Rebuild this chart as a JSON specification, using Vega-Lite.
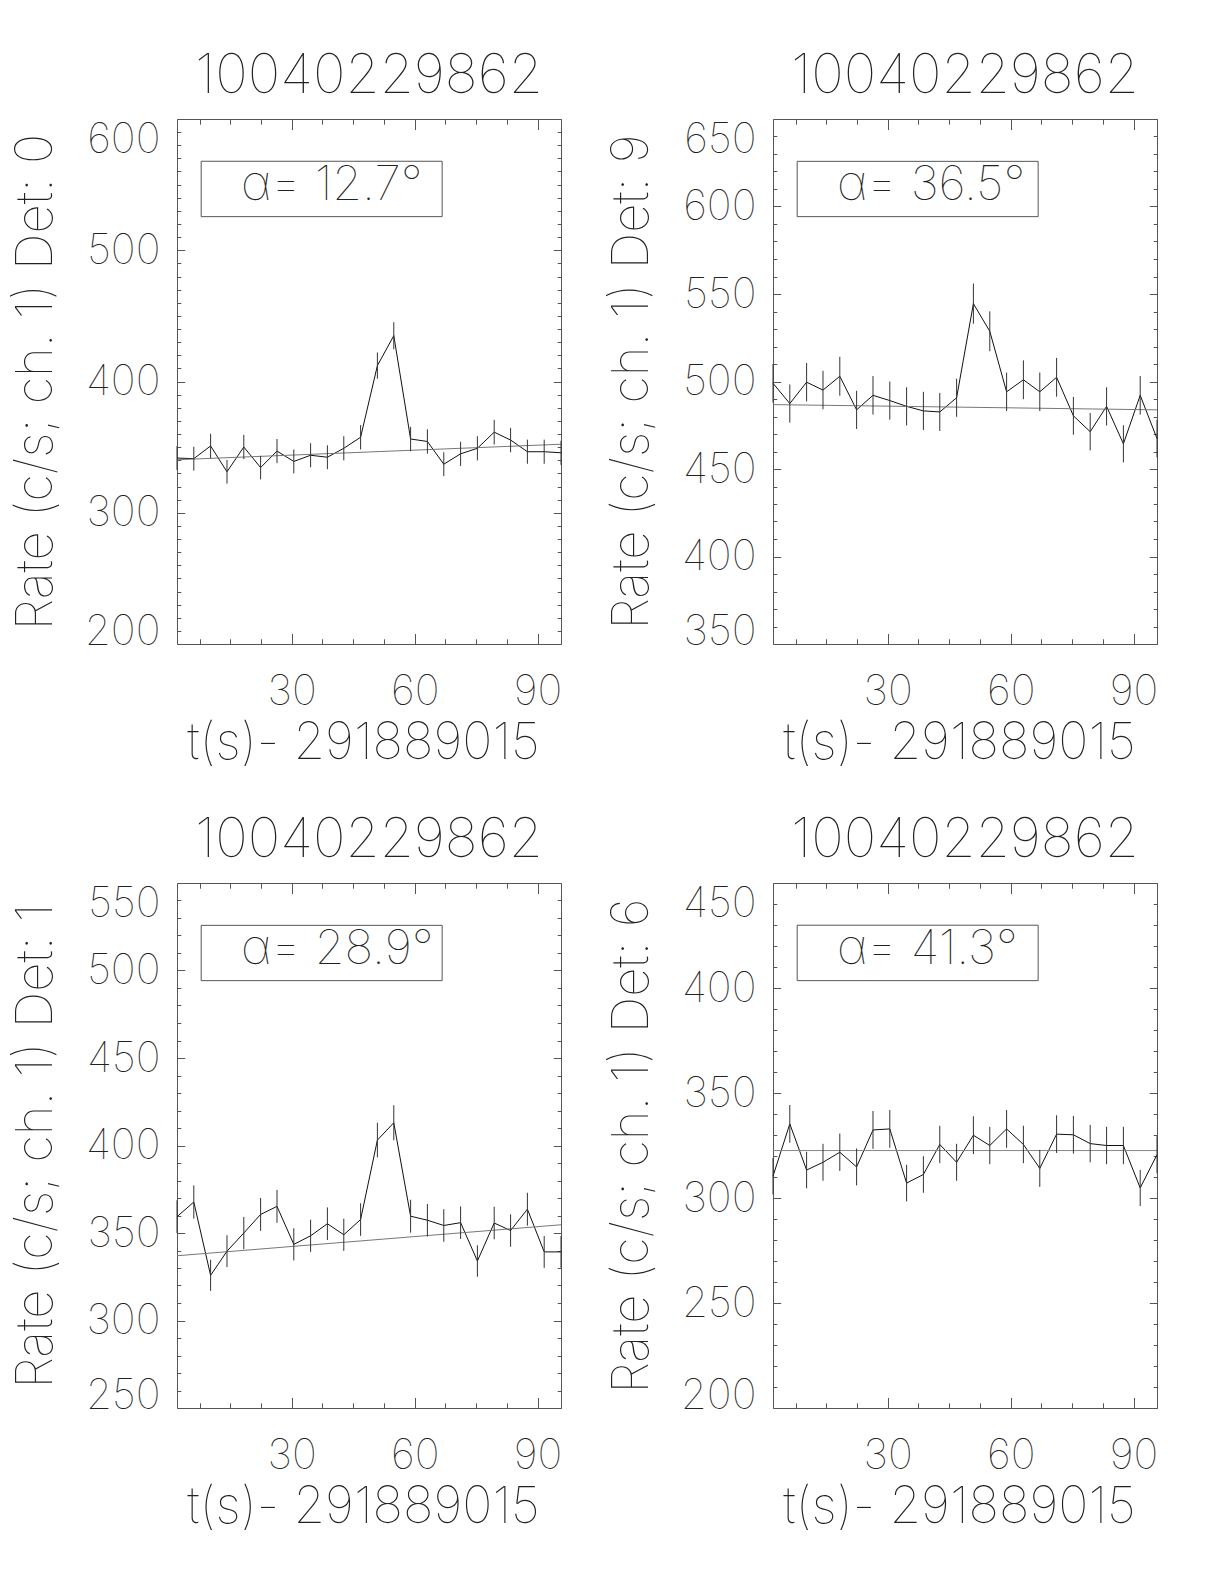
{
  "$schema": "https://vega.github.io/schema/vega-lite/v6.json",
  "background": "white",
  "autosize": {"type": "pad"},
  "padding": {"left": 9, "top": 49, "right": 0, "bottom": 20},
  "config": {
    "view": {"stroke": null},
    "font": "Inter",
    "axis": {"grid": false, "domainColor": "#555", "tickColor": "#555", "domainWidth": 1, "tickWidth": 1, "labelFont": "Inter", "labelFontSize": 42, "labelFontWeight": 100, "labelColor": "#222", "titleFont": "Inter", "titleFontSize": 51, "titleFontWeight": 100, "titleColor": "#222", "labelOverlap": false, "labelBound": false, "labelFlush": false},
    "title": {"font": "Inter", "fontSize": 55, "fontWeight": 100, "color": "#222", "anchor": "middle", "offset": 13, "baseline": "alphabetic"}
  },
  "datasets": {
    "d0": [
      {"t": 2.0, "rate": 341.7, "err": 9.1}, {"t": 6.1, "rate": 341.2, "err": 9.1}, {"t": 10.2, "rate": 350.9, "err": 9.3}, {"t": 14.2, "rate": 331.2, "err": 9.0},
      {"t": 18.3, "rate": 350.1, "err": 9.2}, {"t": 22.4, "rate": 334.4, "err": 9.0}, {"t": 26.4, "rate": 347.0, "err": 9.2}, {"t": 30.5, "rate": 339.1, "err": 9.1},
      {"t": 34.6, "rate": 343.8, "err": 9.2}, {"t": 38.7, "rate": 342.3, "err": 9.1}, {"t": 42.7, "rate": 349.1, "err": 9.2}, {"t": 46.8, "rate": 357.5, "err": 9.3},
      {"t": 50.9, "rate": 412.1, "err": 10.0}, {"t": 54.9, "rate": 434.9, "err": 10.3}, {"t": 59.0, "rate": 356.2, "err": 9.3}, {"t": 63.1, "rate": 354.3, "err": 9.3},
      {"t": 67.1, "rate": 337.0, "err": 9.1}, {"t": 71.2, "rate": 344.9, "err": 9.2}, {"t": 75.3, "rate": 349.1, "err": 9.2}, {"t": 79.4, "rate": 361.4, "err": 9.4},
      {"t": 83.4, "rate": 355.4, "err": 9.3}, {"t": 87.5, "rate": 346.5, "err": 9.2}, {"t": 91.6, "rate": 346.5, "err": 9.2}, {"t": 95.7, "rate": 345.7, "err": 9.2}
    ],
    "f0": [{"t": 2.0, "rate": 340.4}, {"t": 95.7, "rate": 352.2}],
    "d9": [
      {"t": 2.0, "rate": 499.0, "err": 11.0}, {"t": 6.1, "rate": 487.4, "err": 10.9}, {"t": 10.2, "rate": 499.6, "err": 11.0}, {"t": 14.2, "rate": 495.1, "err": 11.0},
      {"t": 18.3, "rate": 503.0, "err": 11.1}, {"t": 22.4, "rate": 483.8, "err": 10.9}, {"t": 26.4, "rate": 492.1, "err": 11.0}, {"t": 30.5, "rate": 489.1, "err": 10.9},
      {"t": 34.6, "rate": 485.8, "err": 10.9}, {"t": 38.7, "rate": 483.2, "err": 10.9}, {"t": 42.7, "rate": 482.6, "err": 10.9}, {"t": 46.8, "rate": 490.7, "err": 10.9},
      {"t": 50.9, "rate": 544.5, "err": 11.5}, {"t": 54.9, "rate": 528.7, "err": 11.4}, {"t": 59.0, "rate": 494.1, "err": 11.0}, {"t": 63.1, "rate": 501.0, "err": 11.1},
      {"t": 67.1, "rate": 494.1, "err": 11.0}, {"t": 71.2, "rate": 502.4, "err": 11.1}, {"t": 75.3, "rate": 480.4, "err": 10.8}, {"t": 79.4, "rate": 471.3, "err": 10.7},
      {"t": 83.4, "rate": 485.8, "err": 10.9}, {"t": 87.5, "rate": 464.4, "err": 10.6}, {"t": 91.6, "rate": 492.1, "err": 11.0}, {"t": 95.7, "rate": 467.4, "err": 10.7}
    ],
    "f9": [{"t": 2.0, "rate": 486.8}, {"t": 95.7, "rate": 483.8}],
    "d1": [
      {"t": 2.0, "rate": 359.3, "err": 9.4}, {"t": 6.1, "rate": 367.7, "err": 9.5}, {"t": 10.2, "rate": 325.8, "err": 8.9}, {"t": 14.2, "rate": 339.6, "err": 9.1},
      {"t": 18.3, "rate": 350.0, "err": 9.2}, {"t": 22.4, "rate": 360.6, "err": 9.4}, {"t": 26.4, "rate": 365.2, "err": 9.4}, {"t": 30.5, "rate": 343.5, "err": 9.2},
      {"t": 34.6, "rate": 348.4, "err": 9.2}, {"t": 38.7, "rate": 355.3, "err": 9.3}, {"t": 42.7, "rate": 349.0, "err": 9.2}, {"t": 46.8, "rate": 357.7, "err": 9.3},
      {"t": 50.9, "rate": 403.1, "err": 9.9}, {"t": 54.9, "rate": 413.0, "err": 10.0}, {"t": 59.0, "rate": 359.6, "err": 9.4}, {"t": 63.1, "rate": 357.3, "err": 9.3},
      {"t": 67.1, "rate": 354.3, "err": 9.3}, {"t": 71.2, "rate": 355.9, "err": 9.3}, {"t": 75.3, "rate": 334.0, "err": 9.0}, {"t": 79.4, "rate": 355.7, "err": 9.3},
      {"t": 83.4, "rate": 351.4, "err": 9.3}, {"t": 87.5, "rate": 363.6, "err": 9.4}, {"t": 91.6, "rate": 339.2, "err": 9.1}, {"t": 95.7, "rate": 339.2, "err": 9.1}
    ],
    "f1": [{"t": 2.0, "rate": 337.0}, {"t": 95.7, "rate": 354.7}],
    "d6": [
      {"t": 2.0, "rate": 310.4, "err": 8.7}, {"t": 6.1, "rate": 335.3, "err": 9.0}, {"t": 10.2, "rate": 313.3, "err": 8.7}, {"t": 14.2, "rate": 317.0, "err": 8.8},
      {"t": 18.3, "rate": 321.8, "err": 8.9}, {"t": 22.4, "rate": 314.8, "err": 8.8}, {"t": 26.4, "rate": 332.4, "err": 9.0}, {"t": 30.5, "rate": 332.9, "err": 9.0},
      {"t": 34.6, "rate": 307.1, "err": 8.7}, {"t": 38.7, "rate": 311.2, "err": 8.7}, {"t": 42.7, "rate": 325.5, "err": 8.9}, {"t": 46.8, "rate": 317.0, "err": 8.8},
      {"t": 50.9, "rate": 329.9, "err": 9.0}, {"t": 54.9, "rate": 325.0, "err": 8.9}, {"t": 59.0, "rate": 332.9, "err": 9.0}, {"t": 63.1, "rate": 325.5, "err": 8.9},
      {"t": 67.1, "rate": 314.1, "err": 8.8}, {"t": 71.2, "rate": 330.4, "err": 9.0}, {"t": 75.3, "rate": 330.1, "err": 9.0}, {"t": 79.4, "rate": 325.9, "err": 8.9},
      {"t": 83.4, "rate": 325.0, "err": 8.9}, {"t": 87.5, "rate": 325.0, "err": 8.9}, {"t": 91.6, "rate": 304.8, "err": 8.6}, {"t": 95.7, "rate": 320.6, "err": 8.8}
    ],
    "f6": [{"t": 2.0, "rate": 322.6}, {"t": 95.7, "rate": 322.6}]
  },
  "columns": 2,
  "spacing": {"row": 239, "column": 212},
  "bounds": "flush",
  "concat": [
    {
      "width": 384, "height": 525,
      "title": "10040229862",
      "resolve": {"axis": {"x": "independent", "y": "independent"}},
      "layer": [
        {"data": {"name": "d0"}, "mark": {"type": "line", "color": "#111", "strokeWidth": 1},
         "encoding": {
           "x": {"field": "t", "type": "quantitative", "scale": {"domain": [2.0, 95.7], "nice": false, "zero": false},
                 "axis": {"orient": "bottom", "values": [30, 60, 90], "tickSize": -10.5, "labelPadding": 38, "title": "t(s)- 291889015", "titleBaseline": "alphabetic", "titleAlign": "center", "titleX": 186, "titleY": 114.5}},
           "y": {"field": "rate", "type": "quantitative", "scale": {"domain": [200, 600], "nice": false, "zero": false},
                 "axis": {"orient": "left", "values": [200, 300, 400, 500, 600], "tickSize": -7.7, "labelPadding": 24.7,
                          "labelBaseline": {"condition": [{"test": "datum.value == 200", "value": "alphabetic"}, {"test": "datum.value == 600", "value": "top"}], "value": "middle"},
                          "title": "Rate (c/s; ch. 1) Det: 0", "titleAngle": 270, "titleBaseline": "alphabetic", "titleAlign": "center", "titleX": -126, "titleY": 262.5}}
         }},
        {"data": {"name": "f0"}, "mark": {"type": "line", "color": "#777", "strokeWidth": 1},
         "encoding": {
           "x": {"field": "t", "type": "quantitative", "axis": {"orient": "top", "values": [30, 60, 90], "tickSize": -10.5, "labels": false, "title": null}},
           "y": {"field": "rate", "type": "quantitative", "axis": {"orient": "right", "values": [200, 300, 400, 500, 600], "tickSize": -7.7, "labels": false, "title": null}}
         }},
        {"data": {"values": [{"label": "α= 12.7°"}]}, "mark": {"type": "rect", "filled": false, "color": "#555", "strokeWidth": 1},
         "encoding": {
           "x": {"datum": 7.9, "type": "quantitative", "axis": {"orient": "bottom", "values": [7.5, 15, 22.5, 37.5, 45, 52.5, 67.5, 75, 82.5], "tickSize": -5.2, "labels": false, "domain": false, "title": null}},
           "x2": {"datum": 66.7},
           "y": {"datum": 567.8, "type": "quantitative", "axis": {"orient": "left", "values": [210,220,230,240,250,260,270,280,290,310,320,330,340,350,360,370,380,390,410,420,430,440,450,460,470,480,490,510,520,530,540,550,560,570,580,590], "tickSize": -3.8, "labels": false, "domain": false, "title": null}},
           "y2": {"datum": 525.6}
         }},
        {"data": {"values": [{"label": "α= 12.7°"}]}, "mark": {"type": "text", "align": "left", "baseline": "alphabetic", "fontSize": 48, "font": "Inter", "fontWeight": 100, "color": "#222"},
         "encoding": {
           "x": {"datum": 17.6, "type": "quantitative", "axis": {"orient": "top", "values": [7.5, 15, 22.5, 37.5, 45, 52.5, 67.5, 75, 82.5], "tickSize": -5.2, "labels": false, "domain": false, "title": null}},
           "y": {"datum": 538.6, "type": "quantitative", "axis": {"orient": "right", "values": [210,220,230,240,250,260,270,280,290,310,320,330,340,350,360,370,380,390,410,420,430,440,450,460,470,480,490,510,520,530,540,550,560,570,580,590], "tickSize": -3.8, "labels": false, "domain": false, "title": null}},
           "text": {"field": "label"}
         }},
        {"data": {"name": "d0"}, "mark": {"type": "errorbar", "color": "#333", "thickness": 1},
         "encoding": {
           "x": {"field": "t", "type": "quantitative", "axis": null},
           "y": {"field": "rate", "type": "quantitative", "axis": null},
           "yError": {"field": "err"}
         }}
      ]
    },
    {
      "width": 384, "height": 525,
      "title": "10040229862",
      "resolve": {"axis": {"x": "independent", "y": "independent"}},
      "layer": [
        {"data": {"name": "d9"}, "mark": {"type": "line", "color": "#111", "strokeWidth": 1},
         "encoding": {
           "x": {"field": "t", "type": "quantitative", "scale": {"domain": [2.0, 95.7], "nice": false, "zero": false},
                 "axis": {"orient": "bottom", "values": [30, 60, 90], "tickSize": -10.5, "labelPadding": 38, "title": "t(s)- 291889015", "titleBaseline": "alphabetic", "titleAlign": "center", "titleX": 186, "titleY": 114.5}},
           "y": {"field": "rate", "type": "quantitative", "scale": {"domain": [350, 650], "nice": false, "zero": false},
                 "axis": {"orient": "left", "values": [350, 400, 450, 500, 550, 600, 650], "tickSize": -7.7, "labelPadding": 24.7,
                          "labelBaseline": {"condition": [{"test": "datum.value == 350", "value": "alphabetic"}, {"test": "datum.value == 650", "value": "top"}], "value": "middle"},
                          "title": "Rate (c/s; ch. 1) Det: 9", "titleAngle": 270, "titleBaseline": "alphabetic", "titleAlign": "center", "titleX": -126, "titleY": 262.5}}
         }},
        {"data": {"name": "f9"}, "mark": {"type": "line", "color": "#777", "strokeWidth": 1},
         "encoding": {
           "x": {"field": "t", "type": "quantitative", "axis": {"orient": "top", "values": [30, 60, 90], "tickSize": -10.5, "labels": false, "title": null}},
           "y": {"field": "rate", "type": "quantitative", "axis": {"orient": "right", "values": [350, 400, 450, 500, 550, 600, 650], "tickSize": -7.7, "labels": false, "title": null}}
         }},
        {"data": {"values": [{"label": "α= 36.5°"}]}, "mark": {"type": "rect", "filled": false, "color": "#555", "strokeWidth": 1},
         "encoding": {
           "x": {"datum": 7.9, "type": "quantitative", "axis": {"orient": "bottom", "values": [7.5, 15, 22.5, 37.5, 45, 52.5, 67.5, 75, 82.5], "tickSize": -5.2, "labels": false, "domain": false, "title": null}},
           "x2": {"datum": 66.7},
           "y": {"datum": 625.8, "type": "quantitative", "axis": {"orient": "left", "values": [360,370,380,390,410,420,430,440,460,470,480,490,510,520,530,540,560,570,580,590,610,620,630,640], "tickSize": -3.8, "labels": false, "domain": false, "title": null}},
           "y2": {"datum": 594.2}
         }},
        {"data": {"values": [{"label": "α= 36.5°"}]}, "mark": {"type": "text", "align": "left", "baseline": "alphabetic", "fontSize": 48, "font": "Inter", "fontWeight": 100, "color": "#222"},
         "encoding": {
           "x": {"datum": 17.6, "type": "quantitative", "axis": {"orient": "top", "values": [7.5, 15, 22.5, 37.5, 45, 52.5, 67.5, 75, 82.5], "tickSize": -5.2, "labels": false, "domain": false, "title": null}},
           "y": {"datum": 603.9, "type": "quantitative", "axis": {"orient": "right", "values": [360,370,380,390,410,420,430,440,460,470,480,490,510,520,530,540,560,570,580,590,610,620,630,640], "tickSize": -3.8, "labels": false, "domain": false, "title": null}},
           "text": {"field": "label"}
         }},
        {"data": {"name": "d9"}, "mark": {"type": "errorbar", "color": "#333", "thickness": 1},
         "encoding": {
           "x": {"field": "t", "type": "quantitative", "axis": null},
           "y": {"field": "rate", "type": "quantitative", "axis": null},
           "yError": {"field": "err"}
         }}
      ]
    },
    {
      "width": 384, "height": 525,
      "title": "10040229862",
      "resolve": {"axis": {"x": "independent", "y": "independent"}},
      "layer": [
        {"data": {"name": "d1"}, "mark": {"type": "line", "color": "#111", "strokeWidth": 1},
         "encoding": {
           "x": {"field": "t", "type": "quantitative", "scale": {"domain": [2.0, 95.7], "nice": false, "zero": false},
                 "axis": {"orient": "bottom", "values": [30, 60, 90], "tickSize": -10.5, "labelPadding": 38, "title": "t(s)- 291889015", "titleBaseline": "alphabetic", "titleAlign": "center", "titleX": 186, "titleY": 114.5}},
           "y": {"field": "rate", "type": "quantitative", "scale": {"domain": [250, 550], "nice": false, "zero": false},
                 "axis": {"orient": "left", "values": [250, 300, 350, 400, 450, 500, 550], "tickSize": -7.7, "labelPadding": 24.7,
                          "labelBaseline": {"condition": [{"test": "datum.value == 250", "value": "alphabetic"}, {"test": "datum.value == 550", "value": "top"}], "value": "middle"},
                          "title": "Rate (c/s; ch. 1) Det: 1", "titleAngle": 270, "titleBaseline": "alphabetic", "titleAlign": "center", "titleX": -126, "titleY": 262.5}}
         }},
        {"data": {"name": "f1"}, "mark": {"type": "line", "color": "#777", "strokeWidth": 1},
         "encoding": {
           "x": {"field": "t", "type": "quantitative", "axis": {"orient": "top", "values": [30, 60, 90], "tickSize": -10.5, "labels": false, "title": null}},
           "y": {"field": "rate", "type": "quantitative", "axis": {"orient": "right", "values": [250, 300, 350, 400, 450, 500, 550], "tickSize": -7.7, "labels": false, "title": null}}
         }},
        {"data": {"values": [{"label": "α= 28.9°"}]}, "mark": {"type": "rect", "filled": false, "color": "#555", "strokeWidth": 1},
         "encoding": {
           "x": {"datum": 7.9, "type": "quantitative", "axis": {"orient": "bottom", "values": [7.5, 15, 22.5, 37.5, 45, 52.5, 67.5, 75, 82.5], "tickSize": -5.2, "labels": false, "domain": false, "title": null}},
           "x2": {"datum": 66.7},
           "y": {"datum": 525.8, "type": "quantitative", "axis": {"orient": "left", "values": [260,270,280,290,310,320,330,340,360,370,380,390,410,420,430,440,460,470,480,490,510,520,530,540], "tickSize": -3.8, "labels": false, "domain": false, "title": null}},
           "y2": {"datum": 494.2}
         }},
        {"data": {"values": [{"label": "α= 28.9°"}]}, "mark": {"type": "text", "align": "left", "baseline": "alphabetic", "fontSize": 48, "font": "Inter", "fontWeight": 100, "color": "#222"},
         "encoding": {
           "x": {"datum": 17.6, "type": "quantitative", "axis": {"orient": "top", "values": [7.5, 15, 22.5, 37.5, 45, 52.5, 67.5, 75, 82.5], "tickSize": -5.2, "labels": false, "domain": false, "title": null}},
           "y": {"datum": 503.9, "type": "quantitative", "axis": {"orient": "right", "values": [260,270,280,290,310,320,330,340,360,370,380,390,410,420,430,440,460,470,480,490,510,520,530,540], "tickSize": -3.8, "labels": false, "domain": false, "title": null}},
           "text": {"field": "label"}
         }},
        {"data": {"name": "d1"}, "mark": {"type": "errorbar", "color": "#333", "thickness": 1},
         "encoding": {
           "x": {"field": "t", "type": "quantitative", "axis": null},
           "y": {"field": "rate", "type": "quantitative", "axis": null},
           "yError": {"field": "err"}
         }}
      ]
    },
    {
      "width": 384, "height": 525,
      "title": "10040229862",
      "resolve": {"axis": {"x": "independent", "y": "independent"}},
      "layer": [
        {"data": {"name": "d6"}, "mark": {"type": "line", "color": "#111", "strokeWidth": 1},
         "encoding": {
           "x": {"field": "t", "type": "quantitative", "scale": {"domain": [2.0, 95.7], "nice": false, "zero": false},
                 "axis": {"orient": "bottom", "values": [30, 60, 90], "tickSize": -10.5, "labelPadding": 38, "title": "t(s)- 291889015", "titleBaseline": "alphabetic", "titleAlign": "center", "titleX": 186, "titleY": 114.5}},
           "y": {"field": "rate", "type": "quantitative", "scale": {"domain": [200, 450], "nice": false, "zero": false},
                 "axis": {"orient": "left", "values": [200, 250, 300, 350, 400, 450], "tickSize": -7.7, "labelPadding": 24.7,
                          "labelBaseline": {"condition": [{"test": "datum.value == 200", "value": "alphabetic"}, {"test": "datum.value == 450", "value": "top"}], "value": "middle"},
                          "title": "Rate (c/s; ch. 1) Det: 6", "titleAngle": 270, "titleBaseline": "alphabetic", "titleAlign": "center", "titleX": -126, "titleY": 262.5}}
         }},
        {"data": {"name": "f6"}, "mark": {"type": "line", "color": "#888", "strokeWidth": 1},
         "encoding": {
           "x": {"field": "t", "type": "quantitative", "axis": {"orient": "top", "values": [30, 60, 90], "tickSize": -10.5, "labels": false, "title": null}},
           "y": {"field": "rate", "type": "quantitative", "axis": {"orient": "right", "values": [200, 250, 300, 350, 400, 450], "tickSize": -7.7, "labels": false, "title": null}}
         }},
        {"data": {"values": [{"label": "α= 41.3°"}]}, "mark": {"type": "rect", "filled": false, "color": "#555", "strokeWidth": 1},
         "encoding": {
           "x": {"datum": 7.9, "type": "quantitative", "axis": {"orient": "bottom", "values": [7.5, 15, 22.5, 37.5, 45, 52.5, 67.5, 75, 82.5], "tickSize": -5.2, "labels": false, "domain": false, "title": null}},
           "x2": {"datum": 66.7},
           "y": {"datum": 429.9, "type": "quantitative", "axis": {"orient": "left", "values": [210,220,230,240,260,270,280,290,310,320,330,340,360,370,380,390,410,420,430,440], "tickSize": -3.8, "labels": false, "domain": false, "title": null}},
           "y2": {"datum": 403.5}
         }},
        {"data": {"values": [{"label": "α= 41.3°"}]}, "mark": {"type": "text", "align": "left", "baseline": "alphabetic", "fontSize": 48, "font": "Inter", "fontWeight": 100, "color": "#222"},
         "encoding": {
           "x": {"datum": 17.6, "type": "quantitative", "axis": {"orient": "top", "values": [7.5, 15, 22.5, 37.5, 45, 52.5, 67.5, 75, 82.5], "tickSize": -5.2, "labels": false, "domain": false, "title": null}},
           "y": {"datum": 411.6, "type": "quantitative", "axis": {"orient": "right", "values": [210,220,230,240,260,270,280,290,310,320,330,340,360,370,380,390,410,420,430,440], "tickSize": -3.8, "labels": false, "domain": false, "title": null}},
           "text": {"field": "label"}
         }},
        {"data": {"name": "d6"}, "mark": {"type": "errorbar", "color": "#333", "thickness": 1},
         "encoding": {
           "x": {"field": "t", "type": "quantitative", "axis": null},
           "y": {"field": "rate", "type": "quantitative", "axis": null},
           "yError": {"field": "err"}
         }}
      ]
    }
  ]
}
